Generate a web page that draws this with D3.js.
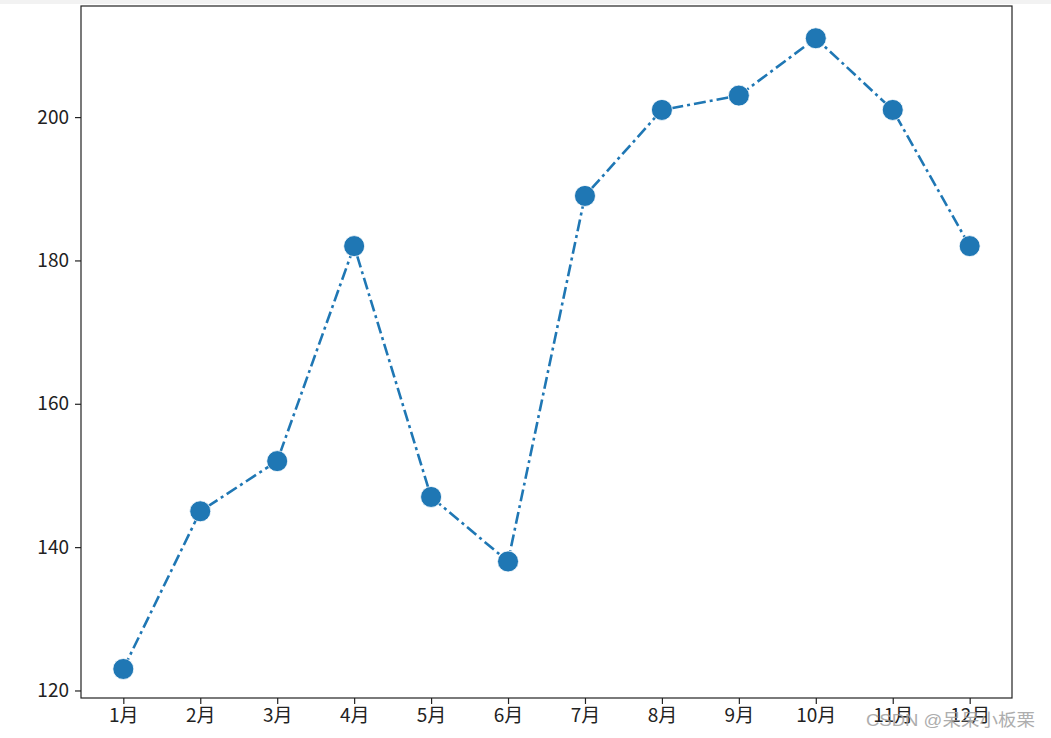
<!DOCTYPE html>
<html><head><meta charset="utf-8">
<script src="https://cdn.jsdelivr.net/npm/d3@7"></script>
<style>body{margin:0;background:#fff;} svg{display:block;}</style>
</head><body>
<script>
const months = ["1月","2月","3月","4月","5月","6月","7月","8月","9月","10月","11月","12月"];
const values = [123,145,152,182,147,138,189,201,203,211,201,182];
const yTicks = [120,140,160,180,200];

const W = 1051, H = 738;
const L = 81, R = 1012, T = 6, B = 698;
const svg = d3.select("body").append("svg").attr("width", W).attr("height", H);
svg.append("rect").attr("width", W).attr("height", H).attr("fill", "#fff");
svg.append("rect").attr("width", W).attr("height", 4).attr("fill", "#f2f2f2");

const x = d3.scaleLinear().domain([-0.55, 11.55]).range([L, R]);
const y = d3.scaleLinear().domain([118.95, 215.5]).range([B, T]);

const font = "'Noto Sans CJK SC','Noto Sans',sans-serif";

const xa = svg.append("g").attr("transform", `translate(0,${B})`)
  .call(d3.axisBottom(x).tickValues(d3.range(12)).tickFormat(i => months[i]).tickSize(6).tickPadding(5));
const ya = svg.append("g").attr("transform", `translate(${L},0)`)
  .call(d3.axisLeft(y).tickValues(yTicks).tickSize(6).tickPadding(6));
[xa, ya].forEach(a => {
  a.select(".domain").remove();
  a.selectAll("line").attr("stroke", "#222").attr("stroke-width", 1.2);
  a.selectAll("text").attr("fill", "#222").style("font-family", font).style("font-size", "19px");
});

svg.append("rect").attr("x", L).attr("y", T).attr("width", R - L).attr("height", B - T)
  .attr("fill", "none").attr("stroke", "#222").attr("stroke-width", 1.2);

const line = d3.line().x((d, i) => x(i)).y(d => y(d));
svg.append("path").datum(values).attr("d", line).attr("fill", "none")
  .attr("stroke", "#1f77b4").attr("stroke-width", 2.6).attr("stroke-dasharray", "12,4,3,4");

svg.selectAll("circle.pt").data(values).enter().append("circle")
  .attr("cx", (d, i) => x(i)).attr("cy", d => y(d)).attr("r", 10.5)
  .attr("fill", "#1f77b4").attr("stroke", "#fff").attr("stroke-width", 0.8);

svg.append("text").attr("x", 866).attr("y", 726).attr("text-anchor", "start")
  .attr("textLength", 169).attr("lengthAdjust", "spacingAndGlyphs")
  .style("font-family", "'Liberation Sans','Noto Sans CJK SC',sans-serif").style("font-size", "17px")
  .attr("fill", "#a0a0a0").attr("opacity", 0.85)
  .text("CSDN @呆呆小板栗");
</script>
</body></html>
